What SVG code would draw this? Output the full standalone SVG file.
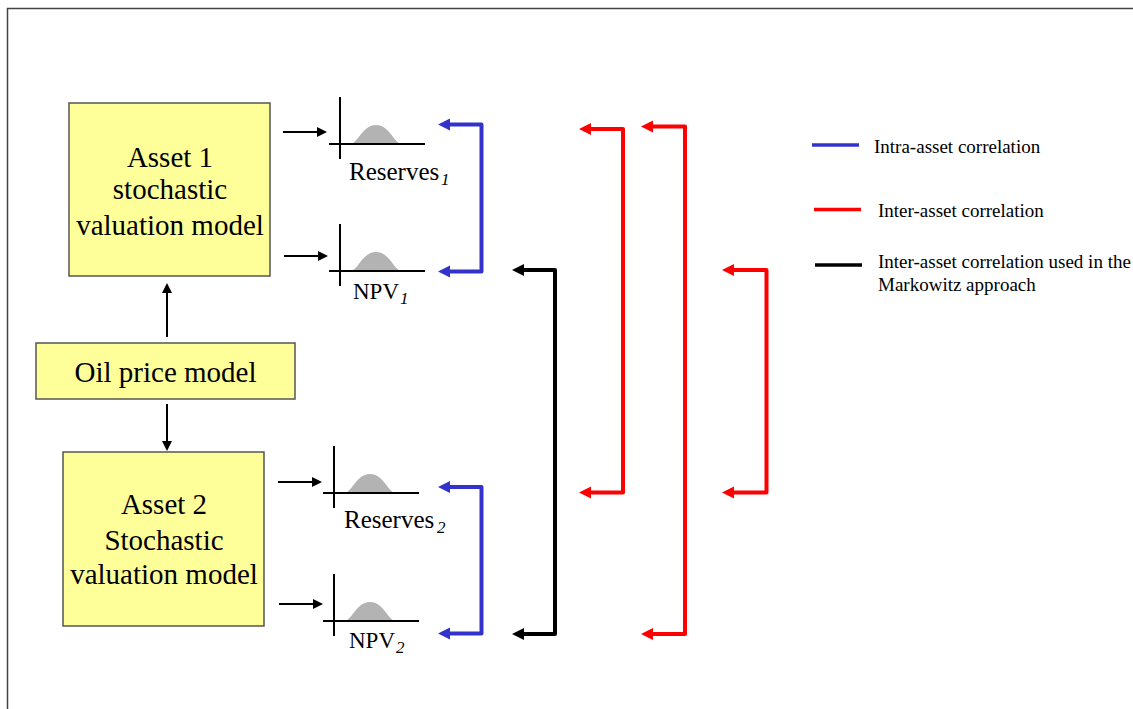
<svg xmlns="http://www.w3.org/2000/svg" xmlns:xlink="http://www.w3.org/1999/xlink" width="1133" height="709" viewBox="0 0 1133 709">
<style>
.box{fill:#ffff99;stroke:#555;stroke-width:1.5}
.big{font-size:29px;text-anchor:middle}
.lbl{font-size:25px}
.npv{font-size:23px}
.sub{font-size:17px;font-style:italic}
.leg{font-size:19px}
.thin{stroke:#000;stroke-width:2;fill:none}
.br{fill:none;stroke-width:4;stroke-linejoin:round}
.axis{stroke:#000;stroke-width:2;fill:none}
.bell{fill:#b3b3b3}
</style>
<defs>
<marker id="ah" markerUnits="userSpaceOnUse" markerWidth="14" markerHeight="12" refX="0" refY="5" orient="auto" overflow="visible"><path d="M0,0 L10,5 L0,10 z" fill="#000"/></marker>
<marker id="hb" markerUnits="userSpaceOnUse" markerWidth="14" markerHeight="14" refX="0" refY="6" orient="auto-start-reverse" overflow="visible"><path d="M0,0 L12,6 L0,12 z" fill="#3333cc"/></marker>
<marker id="hr" markerUnits="userSpaceOnUse" markerWidth="14" markerHeight="14" refX="0" refY="6" orient="auto-start-reverse" overflow="visible"><path d="M0,0 L12,6 L0,12 z" fill="#ff0000"/></marker>
<marker id="hk" markerUnits="userSpaceOnUse" markerWidth="14" markerHeight="14" refX="0" refY="6" orient="auto-start-reverse" overflow="visible"><path d="M0,0 L12,6 L0,12 z" fill="#000"/></marker>
<g id="dist">
<path class="bell" d="M10,0 C18,0 22,-19 36,-19 C50,-19 54,0 62,0 Z"/>
<line class="axis" x1="0" y1="-47" x2="0" y2="15"/>
<line class="axis" x1="-11" y1="0" x2="85" y2="0"/>
</g>
</defs>
<rect width="1133" height="709" fill="#fff"/>
<g id="frame" stroke="#444" stroke-width="1.5" fill="none">
<path d="M7.5,709 L7.5,8.5 L1133,8.5"/>
</g>

<g font-family="'Liberation Serif', 'DejaVu Serif', serif" fill="#000">
<g id="asset1">
<rect class="box" x="69" y="103" width="201" height="173"/>
<text class="big" x="170" y="167">Asset 1</text>
<text class="big" x="170" y="199">stochastic</text>
<text class="big" x="170" y="235">valuation model</text>
</g>
<g id="oil">
<rect class="box" x="36" y="343" width="259" height="56"/>
<text class="big" x="165.5" y="382">Oil price model</text>
</g>
<g id="asset2">
<rect class="box" x="63" y="452" width="201" height="174"/>
<text class="big" x="164" y="514">Asset 2</text>
<text class="big" x="164" y="550">Stochastic</text>
<text class="big" x="164" y="584">valuation model</text>
</g>

<g id="reserves1">
<use xlink:href="#dist" x="340" y="144"/>
<text class="lbl" x="349" y="180">Reserves</text>
<text class="sub" x="441" y="185">1</text>
</g>
<g id="npv1">
<use xlink:href="#dist" x="340" y="271"/>
<text class="npv" x="353" y="299">NPV</text>
<text class="sub" x="400" y="304">1</text>
</g>
<g id="reserves2">
<use xlink:href="#dist" x="334" y="493"/>
<text class="lbl" x="344" y="528">Reserves</text>
<text class="sub" x="437" y="533">2</text>
</g>
<g id="npv2">
<use xlink:href="#dist" x="334" y="621"/>
<text class="npv" x="349" y="648">NPV</text>
<text class="sub" x="396" y="653">2</text>
</g>

<g id="legend">
<line x1="812" y1="145" x2="859" y2="145" stroke="#3333cc" stroke-width="3.5"/>
<text class="leg" x="874" y="153">Intra-asset correlation</text>
<line x1="814" y1="209.5" x2="861" y2="209.5" stroke="#ff0000" stroke-width="3.5"/>
<text class="leg" x="878" y="217">Inter-asset correlation</text>
<line x1="815" y1="265" x2="862" y2="265" stroke="#000" stroke-width="3.5"/>
<text class="leg" x="878" y="268">Inter-asset correlation used in the</text>
<text class="leg" x="878" y="291">Markowitz approach</text>
</g>
</g>

<g id="connectors">
<line class="thin" x1="167" y1="337" x2="167" y2="293" marker-end="url(#ah)"/>
<line class="thin" x1="167" y1="404" x2="167" y2="441" marker-end="url(#ah)"/>
<line class="thin" x1="283" y1="132" x2="317" y2="132" marker-end="url(#ah)"/>
<line class="thin" x1="284" y1="256" x2="318" y2="256" marker-end="url(#ah)"/>
<line class="thin" x1="278" y1="482" x2="312" y2="482" marker-end="url(#ah)"/>
<line class="thin" x1="279" y1="604" x2="313" y2="604" marker-end="url(#ah)"/>

<polyline class="br" stroke="#3333cc" points="450,124.5 481.5,124.5 481.5,271.5 450,271.5" marker-end="url(#hb)" marker-start="url(#hb)"/>
<polyline class="br" stroke="#3333cc" points="450,487 481.5,487 481.5,633.5 450,633.5" marker-end="url(#hb)" marker-start="url(#hb)"/>
<polyline class="br" stroke="#000" points="524,270 555,270 555,634 524,634" marker-end="url(#hk)" marker-start="url(#hk)"/>
<polyline class="br" stroke="#ff0000" points="591,129 623,129 623,492.5 591,492.5" marker-end="url(#hr)" marker-start="url(#hr)"/>
<polyline class="br" stroke="#ff0000" points="653,126.5 685,126.5 685,634 653,634" marker-end="url(#hr)" marker-start="url(#hr)"/>
<polyline class="br" stroke="#ff0000" points="734,270 766.5,270 766.5,492.5 734,492.5" marker-end="url(#hr)" marker-start="url(#hr)"/>
</g>
</svg>
